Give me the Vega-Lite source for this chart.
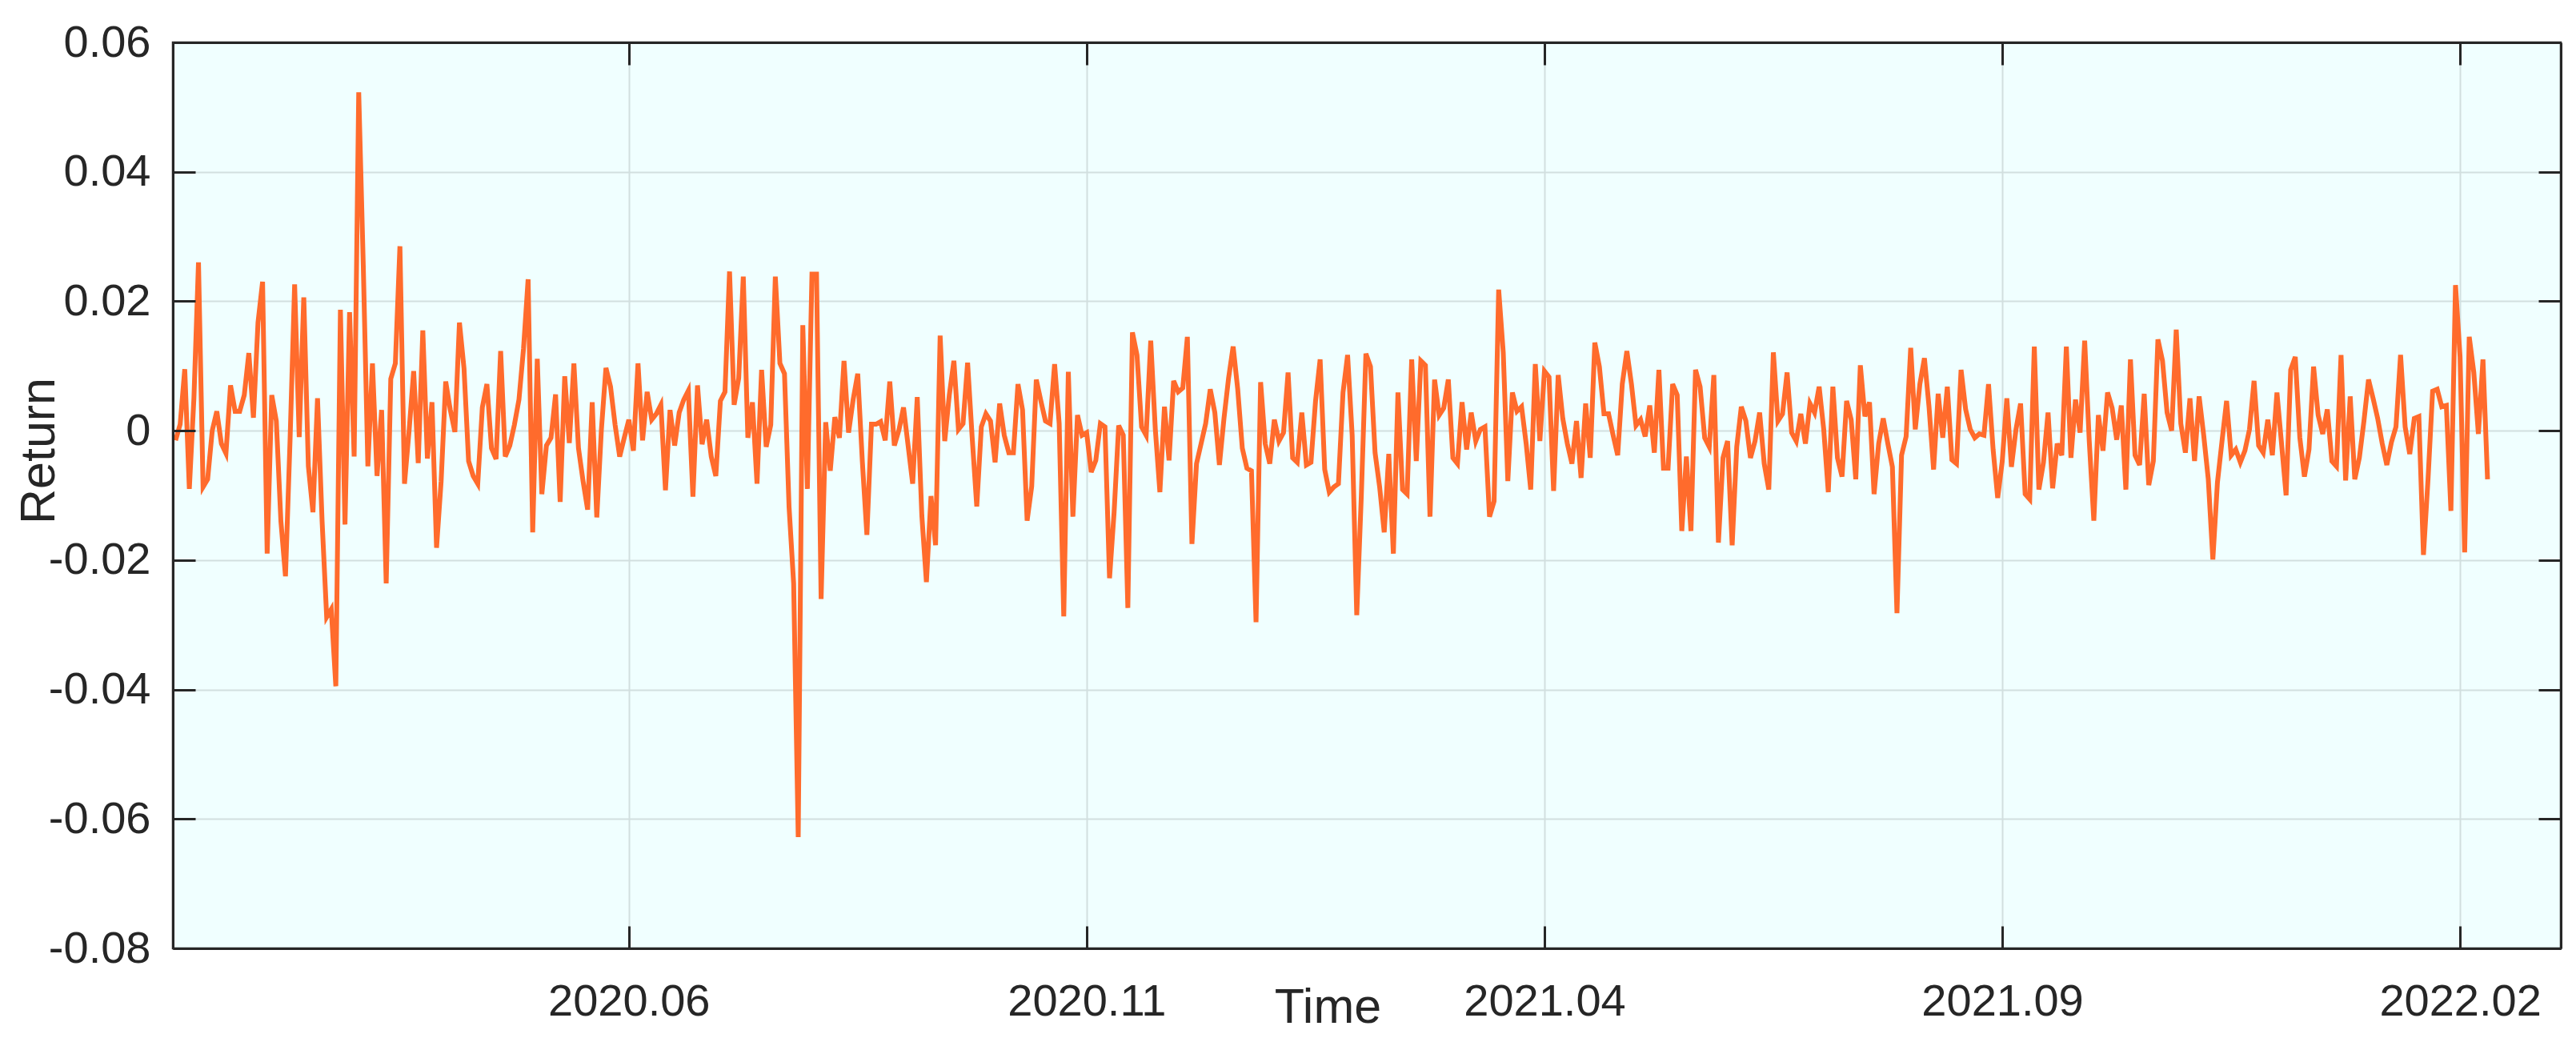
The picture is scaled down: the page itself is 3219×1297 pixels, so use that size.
{
"$schema": "https://vega.github.io/schema/vega-lite/v6.json",
"width": 2984, "height": 1132,
"autosize": {"type": "none"},
"padding": {"left": 216, "top": 53, "right": 19, "bottom": 112},
"background": "white",
"config": {
 "view": {"fill": "#f0ffff", "stroke": "#262626", "strokeWidth": 2.5},
 "axis": {"labelFont": "Liberation Sans", "titleFont": "Liberation Sans", "labelColor": "#262626", "titleColor": "#262626", "labelFontSize": 56, "labelLimit": 0, "titleFontSize": 61, "titleFontWeight": "normal", "gridColor": "#d2dfdf", "gridWidth": 2, "gridOpacity": 1, "tickColor": "#262626", "tickWidth": 3, "tickSize": -28, "domain": false, "domainColor": "#262626", "domainWidth": 3}
},
"data": {"values": [
{"t":1,"ret":-0.0015},{"t":2,"ret":0.001},{"t":3,"ret":0.0095},{"t":4,"ret":-0.009},{"t":5,"ret":0.005},{"t":6,"ret":0.026},{"t":7,"ret":-0.0087},{"t":8,"ret":-0.0075},{"t":9,"ret":0},{"t":10,"ret":0.003},
{"t":11,"ret":-0.002},{"t":12,"ret":-0.0035},{"t":13,"ret":0.007},{"t":14,"ret":0.003},{"t":15,"ret":0.003},{"t":16,"ret":0.0055},{"t":17,"ret":0.012},{"t":18,"ret":0.002},{"t":19,"ret":0.0167},{"t":20,"ret":0.023},
{"t":21,"ret":-0.019},{"t":22,"ret":0.0055},{"t":23,"ret":0.0015},{"t":24,"ret":-0.014},{"t":25,"ret":-0.0225},{"t":26,"ret":-0.0015},{"t":27,"ret":0.0226},{"t":28,"ret":-0.001},{"t":29,"ret":0.0206},{"t":30,"ret":-0.0055},
{"t":31,"ret":-0.0126},{"t":32,"ret":0.005},{"t":33,"ret":-0.014},{"t":34,"ret":-0.0288},{"t":35,"ret":-0.0276},{"t":36,"ret":-0.0395},{"t":37,"ret":0.0187},{"t":38,"ret":-0.0145},{"t":39,"ret":0.0183},{"t":40,"ret":-0.004},
{"t":41,"ret":0.0523},{"t":42,"ret":0.0254},{"t":43,"ret":-0.0055},{"t":44,"ret":0.0104},{"t":45,"ret":-0.007},{"t":46,"ret":0.0032},{"t":47,"ret":-0.0236},{"t":48,"ret":0.008},{"t":49,"ret":0.0104},{"t":50,"ret":0.0285},
{"t":51,"ret":-0.0082},{"t":52,"ret":0},{"t":53,"ret":0.0092},{"t":54,"ret":-0.005},{"t":55,"ret":0.0155},{"t":56,"ret":-0.0043},{"t":57,"ret":0.0044},{"t":58,"ret":-0.0181},{"t":59,"ret":-0.0078},{"t":60,"ret":0.0076},
{"t":61,"ret":0.0032},{"t":62,"ret":-0.0002},{"t":63,"ret":0.0167},{"t":64,"ret":0.0096},{"t":65,"ret":-0.0047},{"t":66,"ret":-0.007},{"t":67,"ret":-0.0082},{"t":68,"ret":0.0036},{"t":69,"ret":0.0072},{"t":70,"ret":-0.0027},
{"t":71,"ret":-0.0044},{"t":72,"ret":0.0123},{"t":73,"ret":-0.004},{"t":74,"ret":-0.0023},{"t":75,"ret":0.0009},{"t":76,"ret":0.0048},{"t":77,"ret":0.0127},{"t":78,"ret":0.0234},{"t":79,"ret":-0.0157},{"t":80,"ret":0.0111},
{"t":81,"ret":-0.0098},{"t":82,"ret":-0.0023},{"t":83,"ret":-0.0011},{"t":84,"ret":0.0056},{"t":85,"ret":-0.011},{"t":86,"ret":0.0084},{"t":87,"ret":-0.0019},{"t":88,"ret":0.0104},{"t":89,"ret":-0.0027},{"t":90,"ret":-0.0078},
{"t":91,"ret":-0.0122},{"t":92,"ret":0.0044},{"t":93,"ret":-0.0134},{"t":94,"ret":0.0001},{"t":95,"ret":0.0097},{"t":96,"ret":0.0068},{"t":97,"ret":0.0009},{"t":98,"ret":-0.004},{"t":99,"ret":-0.0011},{"t":100,"ret":0.0017},
{"t":101,"ret":-0.0031},{"t":102,"ret":0.0104},{"t":103,"ret":-0.0015},{"t":104,"ret":0.006},{"t":105,"ret":0.0017},{"t":106,"ret":0.0026},{"t":107,"ret":0.004},{"t":108,"ret":-0.0092},{"t":109,"ret":0.0032},{"t":110,"ret":-0.0023},
{"t":111,"ret":0.0028},{"t":112,"ret":0.0048},{"t":113,"ret":0.0062},{"t":114,"ret":-0.0102},{"t":115,"ret":0.007},{"t":116,"ret":-0.0021},{"t":117,"ret":0.0017},{"t":118,"ret":-0.004},{"t":119,"ret":-0.007},{"t":120,"ret":0.0046},
{"t":121,"ret":0.006},{"t":122,"ret":0.0246},{"t":123,"ret":0.004},{"t":124,"ret":0.0081},{"t":125,"ret":0.0238},{"t":126,"ret":-0.0011},{"t":127,"ret":0.0044},{"t":128,"ret":-0.0082},{"t":129,"ret":0.0094},{"t":130,"ret":-0.0025},
{"t":131,"ret":0.0009},{"t":132,"ret":0.0238},{"t":133,"ret":0.0104},{"t":134,"ret":0.0088},{"t":135,"ret":-0.0118},{"t":136,"ret":-0.0236},{"t":137,"ret":-0.0628},{"t":138,"ret":0.0163},{"t":139,"ret":-0.009},{"t":140,"ret":0.0242},
{"t":141,"ret":0.0242},{"t":142,"ret":-0.026},{"t":143,"ret":0.0013},{"t":144,"ret":-0.0062},{"t":145,"ret":0.0021},{"t":146,"ret":-0.0011},{"t":147,"ret":0.0108},{"t":148,"ret":-0.0003},{"t":149,"ret":0.0048},{"t":150,"ret":0.0088},
{"t":151,"ret":-0.0047},{"t":152,"ret":-0.0161},{"t":153,"ret":0.001},{"t":154,"ret":0.001},{"t":155,"ret":0.0014},{"t":156,"ret":-0.0015},{"t":157,"ret":0.0076},{"t":158,"ret":-0.0023},{"t":159,"ret":0.0001},{"t":160,"ret":0.0036},
{"t":161,"ret":-0.0023},{"t":162,"ret":-0.0082},{"t":163,"ret":0.0052},{"t":164,"ret":-0.0131},{"t":165,"ret":-0.0234},{"t":166,"ret":-0.0101},{"t":167,"ret":-0.0177},{"t":168,"ret":0.0147},{"t":169,"ret":-0.0016},{"t":170,"ret":0.0055},
{"t":171,"ret":0.0108},{"t":172,"ret":0.0002},{"t":173,"ret":0.0011},{"t":174,"ret":0.0105},{"t":175,"ret":-0.0011},{"t":176,"ret":-0.0117},{"t":177,"ret":0.0006},{"t":178,"ret":0.0026},{"t":179,"ret":0.0015},{"t":180,"ret":-0.0049},
{"t":181,"ret":0.0042},{"t":182,"ret":-0.0007},{"t":183,"ret":-0.0034},{"t":184,"ret":-0.0034},{"t":185,"ret":0.0072},{"t":186,"ret":0.0032},{"t":187,"ret":-0.0139},{"t":188,"ret":-0.0086},{"t":189,"ret":0.0079},{"t":190,"ret":0.0046},
{"t":191,"ret":0.0015},{"t":192,"ret":0.0011},{"t":193,"ret":0.0103},{"t":194,"ret":0.0011},{"t":195,"ret":-0.0287},{"t":196,"ret":0.0091},{"t":197,"ret":-0.0133},{"t":198,"ret":0.0024},{"t":199,"ret":-0.0007},{"t":200,"ret":-0.0003},
{"t":201,"ret":-0.0064},{"t":202,"ret":-0.0046},{"t":203,"ret":0.0011},{"t":204,"ret":0.0006},{"t":205,"ret":-0.0228},{"t":206,"ret":-0.0126},{"t":207,"ret":0.0008},{"t":208,"ret":-0.0007},{"t":209,"ret":-0.0274},{"t":210,"ret":0.0152},
{"t":211,"ret":0.0117},{"t":212,"ret":0.0006},{"t":213,"ret":-0.0007},{"t":214,"ret":0.0139},{"t":215,"ret":0.0002},{"t":216,"ret":-0.0095},{"t":217,"ret":0.0037},{"t":218,"ret":-0.0046},{"t":219,"ret":0.0077},{"t":220,"ret":0.006},
{"t":221,"ret":0.0066},{"t":222,"ret":0.0145},{"t":223,"ret":-0.0175},{"t":224,"ret":-0.0051},{"t":225,"ret":-0.002},{"t":226,"ret":0.0011},{"t":227,"ret":0.0064},{"t":228,"ret":0.0028},{"t":229,"ret":-0.0053},{"t":230,"ret":0.0019},
{"t":231,"ret":0.0081},{"t":232,"ret":0.013},{"t":233,"ret":0.0064},{"t":234,"ret":-0.0027},{"t":235,"ret":-0.0058},{"t":236,"ret":-0.0062},{"t":237,"ret":-0.0296},{"t":238,"ret":0.0075},{"t":239,"ret":-0.002},{"t":240,"ret":-0.0051},
{"t":241,"ret":0.0017},{"t":242,"ret":-0.0016},{"t":243,"ret":-0.0003},{"t":244,"ret":0.009},{"t":245,"ret":-0.0042},{"t":246,"ret":-0.0049},{"t":247,"ret":0.0028},{"t":248,"ret":-0.0053},{"t":249,"ret":-0.0049},{"t":250,"ret":0.0046},
{"t":251,"ret":0.011},{"t":252,"ret":-0.006},{"t":253,"ret":-0.0095},{"t":254,"ret":-0.0087},{"t":255,"ret":-0.0082},{"t":256,"ret":0.0059},{"t":257,"ret":0.0117},{"t":258,"ret":-0.0007},{"t":259,"ret":-0.0285},{"t":260,"ret":-0.01},
{"t":261,"ret":0.0119},{"t":262,"ret":0.0099},{"t":263,"ret":-0.0034},{"t":264,"ret":-0.0087},{"t":265,"ret":-0.0157},{"t":266,"ret":-0.0036},{"t":267,"ret":-0.019},{"t":268,"ret":0.0059},{"t":269,"ret":-0.0091},{"t":270,"ret":-0.0098},
{"t":271,"ret":0.011},{"t":272,"ret":-0.0047},{"t":273,"ret":0.0108},{"t":274,"ret":0.0101},{"t":275,"ret":-0.0133},{"t":276,"ret":0.0079},{"t":277,"ret":0.0024},{"t":278,"ret":0.0035},{"t":279,"ret":0.0079},{"t":280,"ret":-0.0042},
{"t":281,"ret":-0.0051},{"t":282,"ret":0.0044},{"t":283,"ret":-0.0029},{"t":284,"ret":0.0028},{"t":285,"ret":-0.0016},{"t":286,"ret":0.0002},{"t":287,"ret":0.0006},{"t":288,"ret":-0.0133},{"t":289,"ret":-0.0109},{"t":290,"ret":0.0218},
{"t":291,"ret":0.0121},{"t":292,"ret":-0.0078},{"t":293,"ret":0.0059},{"t":294,"ret":0.003},{"t":295,"ret":0.0037},{"t":296,"ret":-0.002},{"t":297,"ret":-0.0091},{"t":298,"ret":0.0103},{"t":299,"ret":-0.0016},{"t":300,"ret":0.0092},
{"t":301,"ret":0.0083},{"t":302,"ret":-0.0093},{"t":303,"ret":0.0086},{"t":304,"ret":0.0019},{"t":305,"ret":-0.002},{"t":306,"ret":-0.0051},{"t":307,"ret":0.0015},{"t":308,"ret":-0.0073},{"t":309,"ret":0.0042},{"t":310,"ret":-0.0042},
{"t":311,"ret":0.0136},{"t":312,"ret":0.0099},{"t":313,"ret":0.0026},{"t":314,"ret":0.0026},{"t":315,"ret":-0.0007},{"t":316,"ret":-0.0038},{"t":317,"ret":0.0072},{"t":318,"ret":0.0123},{"t":319,"ret":0.0072},{"t":320,"ret":0.0008},
{"t":321,"ret":0.0017},{"t":322,"ret":-0.0009},{"t":323,"ret":0.0039},{"t":324,"ret":-0.0034},{"t":325,"ret":0.0094},{"t":326,"ret":-0.0058},{"t":327,"ret":-0.0058},{"t":328,"ret":0.0072},{"t":329,"ret":0.0055},{"t":330,"ret":-0.0155},
{"t":331,"ret":-0.004},{"t":332,"ret":-0.0155},{"t":333,"ret":0.0094},{"t":334,"ret":0.0068},{"t":335,"ret":-0.0011},{"t":336,"ret":-0.0025},{"t":337,"ret":0.0086},{"t":338,"ret":-0.0173},{"t":339,"ret":-0.0042},{"t":340,"ret":-0.0016},
{"t":341,"ret":-0.0177},{"t":342,"ret":-0.0025},{"t":343,"ret":0.0037},{"t":344,"ret":0.0015},{"t":345,"ret":-0.0042},{"t":346,"ret":-0.0016},{"t":347,"ret":0.0028},{"t":348,"ret":-0.0051},{"t":349,"ret":-0.0091},{"t":350,"ret":0.0121},
{"t":351,"ret":0.0015},{"t":352,"ret":0.0026},{"t":353,"ret":0.009},{"t":354,"ret":-0.0003},{"t":355,"ret":-0.0016},{"t":356,"ret":0.0026},{"t":357,"ret":-0.002},{"t":358,"ret":0.0042},{"t":359,"ret":0.0028},{"t":360,"ret":0.0068},
{"t":361,"ret":0.0002},{"t":362,"ret":-0.0095},{"t":363,"ret":0.0068},{"t":364,"ret":-0.0042},{"t":365,"ret":-0.0071},{"t":366,"ret":0.0046},{"t":367,"ret":0.0017},{"t":368,"ret":-0.0075},{"t":369,"ret":0.0101},{"t":370,"ret":0.0022},
{"t":371,"ret":0.0044},{"t":372,"ret":-0.0098},{"t":373,"ret":-0.002},{"t":374,"ret":0.0019},{"t":375,"ret":-0.002},{"t":376,"ret":-0.0056},{"t":377,"ret":-0.0282},{"t":378,"ret":-0.0038},{"t":379,"ret":-0.0009},{"t":380,"ret":0.0128},
{"t":381,"ret":0.0002},{"t":382,"ret":0.0072},{"t":383,"ret":0.0112},{"t":384,"ret":0.0037},{"t":385,"ret":-0.006},{"t":386,"ret":0.0057},{"t":387,"ret":-0.0011},{"t":388,"ret":0.0068},{"t":389,"ret":-0.0045},{"t":390,"ret":-0.0051},
{"t":391,"ret":0.0094},{"t":392,"ret":0.0033},{"t":393,"ret":0.0002},{"t":394,"ret":-0.0011},{"t":395,"ret":-0.0005},{"t":396,"ret":-0.0007},{"t":397,"ret":0.0072},{"t":398,"ret":-0.0029},{"t":399,"ret":-0.0104},{"t":400,"ret":-0.0047},
{"t":401,"ret":0.005},{"t":402,"ret":-0.0056},{"t":403,"ret":0.0002},{"t":404,"ret":0.0042},{"t":405,"ret":-0.0098},{"t":406,"ret":-0.0106},{"t":407,"ret":0.013},{"t":408,"ret":-0.0091},{"t":409,"ret":-0.0049},{"t":410,"ret":0.0028},
{"t":411,"ret":-0.0089},{"t":412,"ret":-0.002},{"t":413,"ret":-0.0038},{"t":414,"ret":0.013},{"t":415,"ret":-0.0042},{"t":416,"ret":0.0048},{"t":417,"ret":-0.0003},{"t":418,"ret":0.0139},{"t":419,"ret":-0.0016},{"t":420,"ret":-0.0139},
{"t":421,"ret":0.0024},{"t":422,"ret":-0.0031},{"t":423,"ret":0.0059},{"t":424,"ret":0.0035},{"t":425,"ret":-0.0014},{"t":426,"ret":0.0039},{"t":427,"ret":-0.0091},{"t":428,"ret":0.011},{"t":429,"ret":-0.0038},{"t":430,"ret":-0.0053},
{"t":431,"ret":0.0057},{"t":432,"ret":-0.0084},{"t":433,"ret":-0.0047},{"t":434,"ret":0.0141},{"t":435,"ret":0.0108},{"t":436,"ret":0.0028},{"t":437,"ret":0},{"t":438,"ret":0.0156},{"t":439,"ret":0.0011},{"t":440,"ret":-0.0034},
{"t":441,"ret":0.005},{"t":442,"ret":-0.0047},{"t":443,"ret":0.0053},{"t":444,"ret":-0.0007},{"t":445,"ret":-0.0075},{"t":446,"ret":-0.0199},{"t":447,"ret":-0.008},{"t":448,"ret":-0.0016},{"t":449,"ret":0.0046},{"t":450,"ret":-0.0038},
{"t":451,"ret":-0.0029},{"t":452,"ret":-0.0049},{"t":453,"ret":-0.0031},{"t":454,"ret":0.0002},{"t":455,"ret":0.0077},{"t":456,"ret":-0.0023},{"t":457,"ret":-0.0034},{"t":458,"ret":0.0017},{"t":459,"ret":-0.0038},{"t":460,"ret":0.0059},
{"t":461,"ret":-0.002},{"t":462,"ret":-0.01},{"t":463,"ret":0.0094},{"t":464,"ret":0.0114},{"t":465,"ret":-0.0011},{"t":466,"ret":-0.0071},{"t":467,"ret":-0.0029},{"t":468,"ret":0.0099},{"t":469,"ret":0.0024},{"t":470,"ret":-0.0005},
{"t":471,"ret":0.0033},{"t":472,"ret":-0.0047},{"t":473,"ret":-0.0055},{"t":474,"ret":0.0117},{"t":475,"ret":-0.0077},{"t":476,"ret":0.0053},{"t":477,"ret":-0.0075},{"t":478,"ret":-0.0042},{"t":479,"ret":0.0015},{"t":480,"ret":0.0079},
{"t":481,"ret":0.005},{"t":482,"ret":0.0019},{"t":483,"ret":-0.002},{"t":484,"ret":-0.0053},{"t":485,"ret":-0.0018},{"t":486,"ret":0.0006},{"t":487,"ret":0.0117},{"t":488,"ret":0.0006},{"t":489,"ret":-0.0036},{"t":490,"ret":0.0019},
{"t":491,"ret":0.0022},{"t":492,"ret":-0.0192},{"t":493,"ret":-0.0075},{"t":494,"ret":0.0061},{"t":495,"ret":0.0064},{"t":496,"ret":0.0037},{"t":497,"ret":0.0039},{"t":498,"ret":-0.0124},{"t":499,"ret":0.0225},{"t":500,"ret":0.0114},
{"t":501,"ret":-0.0188},{"t":502,"ret":0.0145},{"t":503,"ret":0.009},{"t":504,"ret":-0.0005},{"t":505,"ret":0.011},{"t":506,"ret":-0.0075}
]},
"layer": [
 {
  "mark": {"type": "line", "color": "#ff6b2c", "strokeWidth": 6, "clip": true},
  "encoding": {
   "x": {"field": "t", "type": "quantitative",
         "scale": {"domain": [0.4, 522], "nice": false, "zero": false},
         "axis": {"orient": "bottom", "values": [100, 200, 300, 400, 500], "grid": true, "ticks": false,
                  "labelExpr": "datum.value == 100 ? '2020.06' : datum.value == 200 ? '2020.11' : datum.value == 300 ? '2021.04' : datum.value == 400 ? '2021.09' : '2022.02'",
                  "labelPadding": 39, "title": "Time", "titleX": 1443, "titleY": 92, "titleBaseline": "alphabetic", "titleAlign": "center"}},
   "y": {"field": "ret", "type": "quantitative",
         "scale": {"domain": [-0.08, 0.06], "nice": false, "zero": false},
         "axis": {"orient": "left", "values": [-0.08, -0.06, -0.04, -0.02, 0, 0.02, 0.04, 0.06], "grid": true, "ticks": false,
                  "labelExpr": "datum.value == 0 ? '0' : replace(format(datum.value, '.2f'), '\u2212', '-')",
                  "labelPadding": 28, "title": "Return", "titleX": -149, "titleY": 510, "titleAngle": -90, "titleBaseline": "alphabetic", "titleAlign": "center"}}
  }
 },
 {
  "mark": {"type": "line", "opacity": 0},
  "encoding": {
   "x": {"field": "t", "type": "quantitative",
         "scale": {"domain": [0.4, 522], "nice": false, "zero": false},
         "axis": {"orient": "top", "values": [100, 200, 300, 400, 500], "grid": false, "labels": false, "title": null, "domain": true, "zindex": 1}},
   "y": {"field": "ret", "type": "quantitative",
         "scale": {"domain": [-0.08, 0.06], "nice": false, "zero": false},
         "axis": {"orient": "right", "values": [-0.08, -0.06, -0.04, -0.02, 0, 0.02, 0.04, 0.06], "grid": false, "labels": false, "title": null, "domain": true, "zindex": 1}}
  }
 },
 {
  "mark": {"type": "line", "opacity": 0},
  "encoding": {
   "x": {"field": "t", "type": "quantitative",
         "scale": {"domain": [0.4, 522], "nice": false, "zero": false},
         "axis": {"orient": "bottom", "values": [100, 200, 300, 400, 500], "grid": false, "labels": false, "title": null, "domain": true, "zindex": 1}},
   "y": {"field": "ret", "type": "quantitative",
         "scale": {"domain": [-0.08, 0.06], "nice": false, "zero": false},
         "axis": {"orient": "left", "values": [-0.08, -0.06, -0.04, -0.02, 0, 0.02, 0.04, 0.06], "grid": false, "labels": false, "title": null, "domain": true, "zindex": 1}}
  }
 }
],
"resolve": {"axis": {"x": "independent", "y": "independent"}}
}
